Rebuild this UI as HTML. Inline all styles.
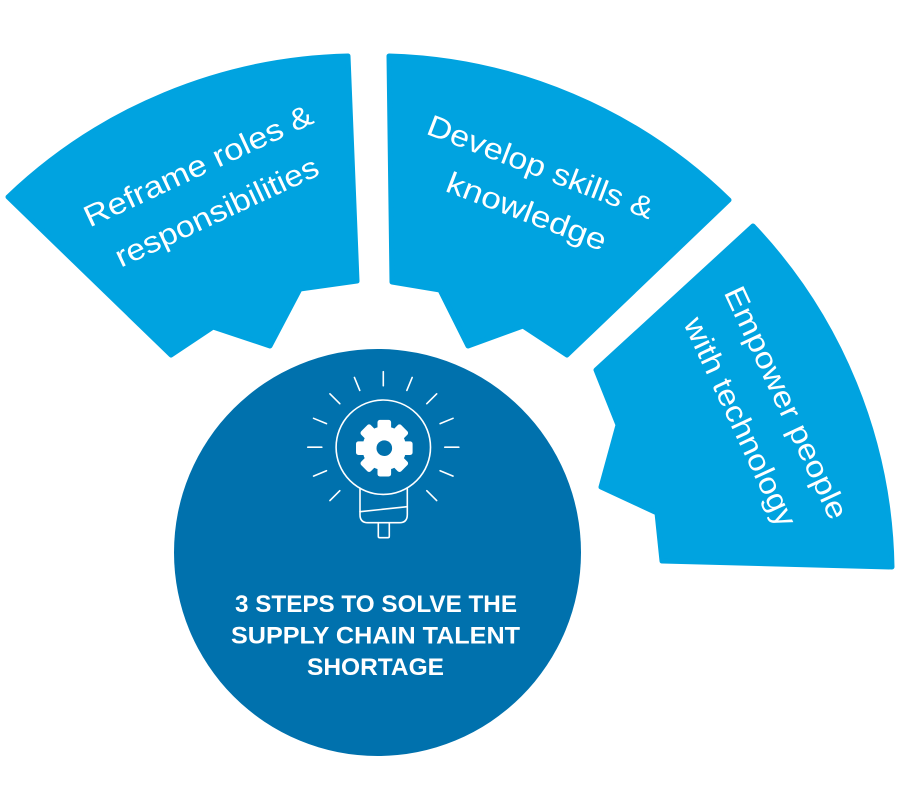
<!DOCTYPE html>
<html>
<head>
<meta charset="utf-8">
<style>
  html, body { margin: 0; padding: 0; background: #ffffff; }
  svg { display: block; }
  .seg { fill: #00a3e0; stroke: #00a3e0; stroke-width: 5; stroke-linejoin: round; }
  .lbl { font-family: "Liberation Sans", "DejaVu Sans", sans-serif; font-size: 30px; fill: #ffffff; font-weight: 300; }
  .ttl { font-family: "Liberation Sans", "DejaVu Sans", sans-serif; font-size: 24px; fill: #ffffff; font-weight: 700; }
  .ic { fill: none; stroke: #ffffff; stroke-width: 1.6; stroke-linecap: round; stroke-linejoin: round; }
</style>
</head>
<body>
<svg width="900" height="810" viewBox="0 0 900 810" xmlns="http://www.w3.org/2000/svg">
  <rect width="900" height="810" fill="#ffffff"/>

  <!-- Segment 1 -->
  <path class="seg" d="M 348 56 L 357 281 L 300 289 L 270 346 L 213 327 L 171 355 L 8 197 A 508 508 0 0 1 348 56 Z"/>
  <!-- Segment 2 -->
  <path class="seg" d="M 389 56 A 508 508 0 0 1 729 200 L 567 355 L 523 326 L 468 346 L 440 290 L 392 282 Z"/>
  <!-- Segment 3 -->
  <path class="seg" d="M 753 226 A 508 508 0 0 1 892 567 L 662 561 L 657 513 L 601 487 L 618 425 L 596 370 Z"/>

  <!-- Segment labels -->
  <text class="lbl" text-anchor="middle" textLength="249" lengthAdjust="spacingAndGlyphs" transform="translate(202.5 175) rotate(-25)">Reframe roles &amp;</text>
  <text class="lbl" text-anchor="middle" textLength="221" lengthAdjust="spacingAndGlyphs" transform="translate(221 221) rotate(-25)">responsibilities</text>

  <text class="lbl" text-anchor="middle" textLength="240" lengthAdjust="spacingAndGlyphs" transform="translate(537 176.5) rotate(21)">Develop skills &amp;</text>
  <text class="lbl" text-anchor="middle" textLength="169" lengthAdjust="spacingAndGlyphs" transform="translate(523 221) rotate(21)">knowledge</text>

  <text class="lbl" text-anchor="middle" textLength="253" lengthAdjust="spacingAndGlyphs" transform="translate(777 407) rotate(65)">Empower people</text>
  <text class="lbl" text-anchor="middle" textLength="227" lengthAdjust="spacingAndGlyphs" transform="translate(731 426) rotate(65)">with technology</text>

  <!-- Central circle -->
  <circle cx="377.5" cy="552.5" r="203.5" fill="#0071ad"/>

  <!-- Light bulb icon -->
  <g transform="translate(383.3 447.2)">
    <!-- rays -->
    <g class="ic">
      <line x1="0" y1="-61.5" x2="0" y2="-75.5" transform="rotate(-135)"/>
      <line x1="0" y1="-61.5" x2="0" y2="-75.5" transform="rotate(-112.5)"/>
      <line x1="0" y1="-61.5" x2="0" y2="-75.5" transform="rotate(-90)"/>
      <line x1="0" y1="-61.5" x2="0" y2="-75.5" transform="rotate(-67.5)"/>
      <line x1="0" y1="-61.5" x2="0" y2="-75.5" transform="rotate(-45)"/>
      <line x1="0" y1="-61.5" x2="0" y2="-75.5" transform="rotate(-22.5)"/>
      <line x1="0" y1="-61.5" x2="0" y2="-75.5" transform="rotate(0)"/>
      <line x1="0" y1="-61.5" x2="0" y2="-75.5" transform="rotate(22.5)"/>
      <line x1="0" y1="-61.5" x2="0" y2="-75.5" transform="rotate(45)"/>
      <line x1="0" y1="-61.5" x2="0" y2="-75.5" transform="rotate(67.5)"/>
      <line x1="0" y1="-61.5" x2="0" y2="-75.5" transform="rotate(90)"/>
      <line x1="0" y1="-61.5" x2="0" y2="-75.5" transform="rotate(112.5)"/>
      <line x1="0" y1="-61.5" x2="0" y2="-75.5" transform="rotate(135)"/>
      <!-- bulb globe -->
      <circle cx="0" cy="0" r="47.2"/>
      <!-- neck -->
      <path d="M -23.3 41 L -23.3 67.5 Q -23.3 75.5 -15.3 75.5 L 16 75.5 Q 24 75.5 24 67.5 L 24 41"/>
      <line x1="-23.3" y1="64.5" x2="24" y2="59.5"/>
      <!-- cap -->
      <path d="M -5 75.5 L -5 89 Q -5 90.5 -3.5 90.5 L 4.5 90.5 Q 6 90.5 6 89 L 6 75.5"/>
    </g>
    <!-- gear -->
    <g transform="translate(1 1)" fill="#ffffff">
      <circle cx="0" cy="0" r="22"/>
      <rect x="-6.8" y="-28.3" width="13.6" height="12" rx="2.5" transform="rotate(0)"/>
      <rect x="-6.8" y="-28.3" width="13.6" height="12" rx="2.5" transform="rotate(45)"/>
      <rect x="-6.8" y="-28.3" width="13.6" height="12" rx="2.5" transform="rotate(90)"/>
      <rect x="-6.8" y="-28.3" width="13.6" height="12" rx="2.5" transform="rotate(135)"/>
      <rect x="-6.8" y="-28.3" width="13.6" height="12" rx="2.5" transform="rotate(180)"/>
      <rect x="-6.8" y="-28.3" width="13.6" height="12" rx="2.5" transform="rotate(225)"/>
      <rect x="-6.8" y="-28.3" width="13.6" height="12" rx="2.5" transform="rotate(270)"/>
      <rect x="-6.8" y="-28.3" width="13.6" height="12" rx="2.5" transform="rotate(315)"/>
      <circle cx="0" cy="0" r="7.8" fill="#0071ad"/>
    </g>
  </g>

  <!-- Title -->
  <text class="ttl" x="376" y="612" text-anchor="middle" textLength="282" lengthAdjust="spacingAndGlyphs">3 STEPS TO SOLVE THE</text>
  <text class="ttl" x="375.5" y="643.5" text-anchor="middle" textLength="289" lengthAdjust="spacingAndGlyphs">SUPPLY CHAIN TALENT</text>
  <text class="ttl" x="375.5" y="675" text-anchor="middle" textLength="137" lengthAdjust="spacingAndGlyphs">SHORTAGE</text>
</svg>
</body>
</html>
